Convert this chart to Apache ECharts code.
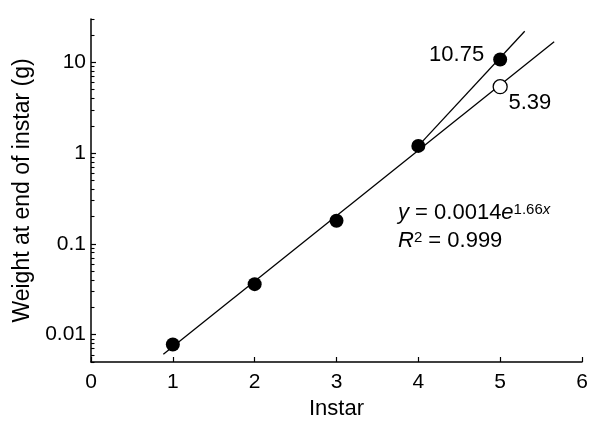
<!DOCTYPE html>
<html>
<head>
<meta charset="utf-8">
<script src="https://cdn.jsdelivr.net/npm/echarts@6/dist/echarts.min.js"></script>
<style>
  html, body { margin: 0; padding: 0; background: #fff; }
  #main { width: 600px; height: 441px; }
</style>
</head>
<body>
<div id="main"></div>
<script>
// observed weights (g) at end of each instar
const instar = [1, 2, 3, 4, 5];
const weight = [0.0078, 0.036, 0.18, 1.2, 10.75];
// predicted weight for instar 5 from the fit
const predictedX = [5];
const predictedW = [5.39];
// fitted line ends and the line through the observed instar 5
const fitLine = [[0.884, 0.0061], [5.66, 16.8]];
const steepLine = [[4, 1.2], [5.3, 22]];
// ticks
const xTicks = [0, 1, 2, 3, 4, 5, 6];
const yMajorTicks = [0.01, 0.1, 1, 10];
const yMinorTicks = [
  0.005, 0.006, 0.007, 0.008, 0.009,
  0.02, 0.03, 0.04, 0.05, 0.06, 0.07, 0.08, 0.09,
  0.2, 0.3, 0.4, 0.5, 0.6, 0.7, 0.8, 0.9,
  2, 3, 4, 5, 6, 7, 8, 9,
  20, 30
];

const FONT = 'Liberation Sans';
const chart = echarts.init(document.getElementById('main'));

const observed = instar.map((x, i) => {
  const item = { value: [x, weight[i]] };
  if (i === instar.length - 1) {
    item.label = {
      show: true, position: 'left', distance: 9, offset: [0, -5],
      formatter: String(weight[i])
    };
  }
  return item;
});

const predicted = predictedX.map((x, i) => ({
  value: [x, predictedW[i]],
  label: {
    show: true, position: [16, 13], align: 'left', verticalAlign: 'top',
    formatter: String(predictedW[i])
  }
}));

const option = {
  animation: false,
  backgroundColor: '#fff',
  textStyle: { fontFamily: FONT, color: '#000' },
  grid: { left: 91, right: 18, top: 19, bottom: 79 },
  xAxis: {
    type: 'value', min: 0, max: 6, interval: 1,
    name: 'Instar', nameLocation: 'middle', nameGap: 36,
    nameTextStyle: { fontSize: 22, color: '#000', fontFamily: FONT },
    axisLine: { onZero: false, lineStyle: { color: '#000', width: 1.5 } },
    axisTick: { inside: true, length: 5, lineStyle: { color: '#000', width: 1.2 } },
    axisLabel: { fontSize: 21, color: '#000', margin: 10, fontFamily: FONT,
      customValues: xTicks },
    splitLine: { show: false }
  },
  yAxis: [
    {
      type: 'log', logBase: 10, min: 0.005, max: 30,
      name: 'Weight at end of instar (g)', nameLocation: 'middle', nameGap: 55,
      nameTextStyle: { fontSize: 23, color: '#000', fontFamily: FONT },
      axisLine: { lineStyle: { color: '#000', width: 1.5 } },
      axisTick: { inside: true, length: 5, customValues: yMajorTicks,
        lineStyle: { color: '#000', width: 1.2 } },
      axisLabel: { fontSize: 21, color: '#000', margin: 5, fontFamily: FONT,
        customValues: yMajorTicks,
        formatter: v => String(+Number(v).toPrecision(3)) },
      splitLine: { show: false }
    },
    {
      type: 'log', logBase: 10, min: 0.005, max: 30, position: 'left',
      axisLine: { show: false },
      axisTick: { show: true, inside: true, length: 3.5, customValues: yMinorTicks,
        lineStyle: { color: '#000', width: 1.1 } },
      axisLabel: { show: false },
      splitLine: { show: false }
    }
  ],
  graphic: [
    {
      type: 'text', left: 398, top: 202,
      style: {
        text: '{i|y} = 0.0014{i|e}{s|1.66}{si|x}',
        font: '22px ' + FONT, fill: '#000',
        rich: {
          i: { fontStyle: 'italic', fontSize: 22, fontFamily: FONT },
          s: { fontSize: 15, fontFamily: FONT, verticalAlign: 'top' },
          si: { fontSize: 15, fontFamily: FONT, fontStyle: 'italic', verticalAlign: 'top' }
        }
      }
    },
    {
      type: 'text', left: 398, top: 230,
      style: {
        text: '{i|R}{s|2} = 0.999',
        font: '22px ' + FONT, fill: '#000',
        rich: {
          i: { fontStyle: 'italic', fontSize: 22, fontFamily: FONT },
          s: { fontSize: 15, fontFamily: FONT, verticalAlign: 'top' }
        }
      }
    }
  ],
  series: [
    {
      type: 'line', data: fitLine, showSymbol: false, z: 2,
      lineStyle: { color: '#000', width: 1.3 }, silent: true
    },
    {
      type: 'line', data: steepLine, showSymbol: false, z: 2,
      lineStyle: { color: '#000', width: 1.3 }, silent: true
    },
    {
      type: 'scatter', data: observed, symbol: 'circle', symbolSize: 14, z: 5,
      itemStyle: { color: '#000', opacity: 1 },
      label: { fontSize: 22, color: '#000', fontFamily: FONT }
    },
    {
      type: 'scatter', data: predicted, symbol: 'circle', symbolSize: 14, z: 5,
      itemStyle: { color: '#fff', borderColor: '#000', borderWidth: 1.3, opacity: 1 },
      label: { fontSize: 22, color: '#000', fontFamily: FONT }
    }
  ]
};

chart.setOption(option);
</script>
</body>
</html>
